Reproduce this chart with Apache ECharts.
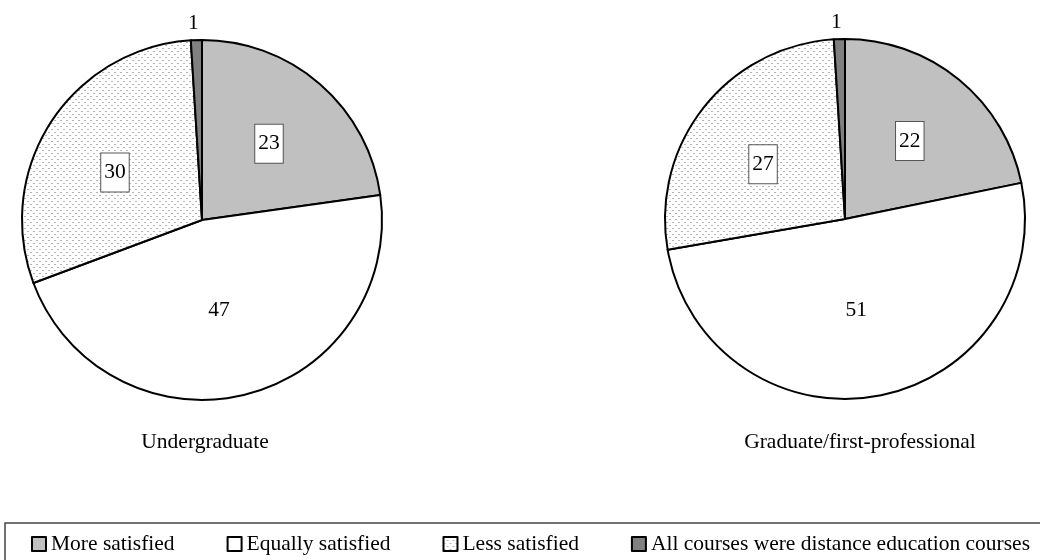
<!DOCTYPE html>
<html>
<head>
<meta charset="utf-8">
<script src="https://cdn.jsdelivr.net/npm/echarts@6/dist/echarts.min.js"></script>
<style>
  html, body { margin: 0; padding: 0; background: #fff; }
  #chart { width: 1040px; height: 560px; }
</style>
</head>
<body>
<div id="chart"></div>
<script>
// Satisfaction with distance education compared with classroom courses
const categories = [
  'More satisfied',
  'Equally satisfied',
  'Less satisfied',
  'All courses were distance education courses'
];
const undergraduateValues = [23, 47, 30, 1];
const graduateValues = [22, 51, 27, 1];
const pieTitles = ['Undergraduate', 'Graduate/first-professional'];

const FONT = '"Liberation Serif", "Times New Roman", serif';
const FONT_SIZE = 21.5;

// light stipple used for the "Less satisfied" wedges
function makeDotPattern() {
  const c = document.createElement('canvas');
  c.width = 6; c.height = 6;
  const g = c.getContext('2d');
  g.fillStyle = '#ffffff';
  g.fillRect(0, 0, 6, 6);
  g.fillStyle = '#b4b4b4';
  g.fillRect(0, 0, 2, 1);
  g.fillRect(3, 3, 2, 1);
  return c;
}
const dotPattern = { image: makeDotPattern(), repeat: 'repeat' };
const sliceColors = ['#c0c0c0', '#ffffff', dotPattern, '#808080'];

const boxedLabel = (offset) => ({
  position: 'inside',
  offset: offset,
  backgroundColor: '#ffffff',
  borderColor: '#555555',
  borderWidth: 1,
  padding: [8, 3, 8, 3],
  lineHeight: 22
});
// label placement per category: value boxes sit a little further out than the ring midpoint
const labelStyles = [
  boxedLabel([6, -6]),
  { position: 'inside', offset: [-6, 0] },
  boxedLabel([-9, 3]),
  { position: 'outside', distanceToLabelLine: 0, offset: [3, 1] }
];

function buildData(values) {
  return values.map((v, i) => ({
    name: categories[i],
    value: v,
    itemStyle: { color: sliceColors[i] },
    label: labelStyles[i],
    labelLine: { show: false, length: 18, length2: 0 }
  }));
}

function pieSeries(values, center) {
  return {
    type: 'pie',
    radius: 180,
    center: center,
    startAngle: 90,
    clockwise: true,
    avoidLabelOverlap: false,
    silent: true,
    itemStyle: { borderColor: '#000000', borderWidth: 2 },
    label: {
      show: true,
      formatter: '{c}',
      color: '#000000',
      fontFamily: FONT,
      fontSize: FONT_SIZE
    },
    labelLine: { show: false },
    emphasis: { disabled: true },
    data: buildData(values)
  };
}

const titleText = { fontFamily: FONT, fontSize: FONT_SIZE, fontWeight: 'normal', color: '#000' };

const chart = echarts.init(document.getElementById('chart'), null, { renderer: 'canvas' });
chart.setOption({
  animation: false,
  backgroundColor: '#ffffff',
  title: [
    { text: pieTitles[0], left: 200, top: 426, textAlign: 'center', textStyle: titleText },
    { text: pieTitles[1], left: 855, top: 426, textAlign: 'center', textStyle: titleText }
  ],
  legend: {
    data: categories,
    left: 31,
    top: 533,
    padding: 0,
    itemGap: 52,
    itemWidth: 14,
    itemHeight: 14,
    icon: 'rect',
    selectedMode: false,
    itemStyle: { borderColor: '#000000', borderWidth: 2 },
    textStyle: { fontFamily: FONT, fontSize: FONT_SIZE, color: '#000' }
  },
  graphic: [{
    type: 'rect',
    silent: true,
    shape: { x: 5, y: 523, width: 1050, height: 60 },
    style: { fill: 'none', stroke: '#444444', lineWidth: 1.5 }
  }],
  series: [
    pieSeries(undergraduateValues, [202, 220]),
    pieSeries(graduateValues, [845, 219])
  ]
});
</script>
</body>
</html>
